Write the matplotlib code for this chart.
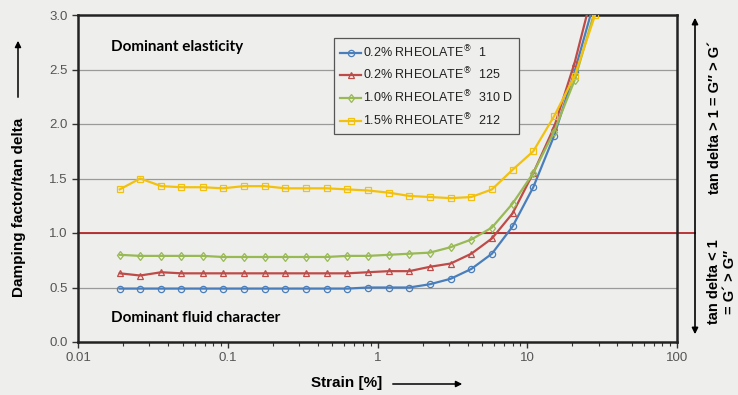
import matplotlib
matplotlib.use("Agg")
import matplotlib.pyplot as plt
from matplotlib.ticker import FixedLocator, FixedFormatter, LogLocator, NullFormatter

# strain [%] points of the amplitude sweep
strain = [0.019, 0.026, 0.036, 0.049, 0.068, 0.093, 0.128, 0.176, 0.242, 0.333,
          0.457, 0.628, 0.863, 1.19, 1.63, 2.24, 3.08, 4.23, 5.81, 7.98,
          10.97, 15.1, 20.7, 28.4]

rheolate_1 = [0.49, 0.49, 0.49, 0.49, 0.49, 0.49, 0.49, 0.49, 0.49, 0.49,
              0.49, 0.49, 0.50, 0.50, 0.50, 0.53, 0.58, 0.67, 0.81, 1.06,
              1.42, 1.89, 2.48, 3.15]
rheolate_125 = [0.63, 0.61, 0.64, 0.63, 0.63, 0.63, 0.63, 0.63, 0.63, 0.63,
                0.63, 0.63, 0.64, 0.65, 0.65, 0.69, 0.72, 0.81, 0.95, 1.18,
                1.55, 1.97, 2.56, 3.3]
rheolate_310d = [0.80, 0.79, 0.79, 0.79, 0.79, 0.78, 0.78, 0.78, 0.78, 0.78,
                 0.78, 0.79, 0.79, 0.80, 0.81, 0.82, 0.87, 0.94, 1.05, 1.27,
                 1.55, 1.93, 2.40, 3.05]
rheolate_212 = [1.40, 1.50, 1.43, 1.42, 1.42, 1.41, 1.43, 1.43, 1.41, 1.41,
                1.41, 1.40, 1.39, 1.37, 1.34, 1.33, 1.32, 1.33, 1.40, 1.58,
                1.75, 2.07, 2.44, 3.0]

labels = ["0.2% RHEOLATE$^{®}$  1", "0.2% RHEOLATE$^{®}$  125",
          "1.0% RHEOLATE$^{®}$  310 D", "1.5% RHEOLATE$^{®}$  212"]
colors = ["#4a7ebb", "#be4b48", "#98b954", "#f2c10f"]
markers = ["o", "^", "d", "s"]

y_ticks = [0.0, 0.5, 1.0, 1.5, 2.0, 2.5, 3.0]
x_ticks = [0.01, 0.1, 1, 10, 100]
x_ticklabels = ["0.01", "0.1", "1", "10", "100"]

bg = "#eeefed"
plt.rcParams["font.family"] = ["Liberation Sans", "DejaVu Sans"]

fig = plt.figure(figsize=(7.38, 3.95), dpi=100, facecolor=bg)
ax = fig.add_axes([78 / 738, 1 - 342 / 395, (677 - 78) / 738, (342 - 15) / 395])
ax.set_facecolor(bg)

series = [rheolate_1, rheolate_125, rheolate_310d, rheolate_212]
for vals, lab, c, m in zip(series, labels, colors, markers):
    ax.plot(strain, vals, color=c, lw=1.6, marker=m, ms=4.5, mfc="none",
            mec=c, mew=0.9, label=lab, zorder=3)

for yv in y_ticks[1:-1]:
    ax.axhline(yv, color="#9a9a9a", lw=0.9, zorder=1)
# tan delta = 1 boundary, runs out to the right arrow
ax.plot([0.01, 100 * 10 ** (18 / 150)], [1.0, 1.0], color="#b5262a", lw=1.3,
        clip_on=False, zorder=2)

ax.set_xscale("log")
ax.set_xlim(0.01, 100)
ax.set_ylim(0, 3)
ax.xaxis.set_major_locator(FixedLocator(x_ticks))
ax.xaxis.set_major_formatter(FixedFormatter(x_ticklabels))
ax.xaxis.set_minor_locator(LogLocator(base=10, subs=range(2, 10)))
ax.xaxis.set_minor_formatter(NullFormatter())
ax.set_yticks(y_ticks)
ax.set_yticklabels([f"{v:.1f}" for v in y_ticks])
ax.tick_params(axis="both", which="major", labelsize=9.5, labelcolor="#555555",
               color="#333333", length=4, width=1)
ax.tick_params(axis="x", which="minor", color="#333333", length=3, width=0.8)
for s in ax.spines.values():
    s.set_linewidth(1.8)
    s.set_color("#222222")

leg = ax.legend(loc="upper left", bbox_to_anchor=((328 - 78) / 599, (342 - 32) / 327),
                frameon=True, fontsize=9, handlelength=1.7, handletextpad=0.15,
                borderpad=0.45, labelspacing=0.5, fancybox=False,
                facecolor=bg, framealpha=1)
leg.get_frame().set_edgecolor("#555555")
leg.get_frame().set_linewidth(0.9)
for t in leg.get_texts():
    t.set_color("#222222")

ax.text(0.0167, 2.71, "Dominant elasticity", fontsize=11, fontweight="bold",
        family=["Lato", "DejaVu Sans"], va="center", ha="left")
ax.text(0.0167, 0.22, "Dominant fluid character", fontsize=11, fontweight="bold",
        family=["Lato", "DejaVu Sans"], va="center", ha="left")

# y label with arrow
fig.text(19 / 738, 1 - 207 / 395, "Damping factor/tan delta", rotation=90,
         fontsize=11, fontweight="bold", ha="center", va="center")
fig.add_artist(matplotlib.patches.FancyArrowPatch(
    (18 / 738, 1 - 100 / 395), (18 / 738, 1 - 38 / 395), transform=fig.transFigure,
    arrowstyle="-|>", mutation_scale=9, lw=1.1, color="black"))

# x label with arrow
fig.text(347 / 738, 1 - 383 / 395, "Strain [%]", fontsize=11, fontweight="bold",
         ha="center", va="center")
fig.add_artist(matplotlib.patches.FancyArrowPatch(
    (390 / 738, 1 - 384 / 395), (465 / 738, 1 - 384 / 395), transform=fig.transFigure,
    arrowstyle="-|>", mutation_scale=9, lw=1.1, color="black"))

# right side double arrow and annotations
fig.add_artist(matplotlib.patches.FancyArrowPatch(
    (695 / 738, 1 - 337 / 395), (695 / 738, 1 - 15 / 395), transform=fig.transFigure,
    arrowstyle="<|-|>", mutation_scale=9, lw=1.2, color="black"))
fig.text(715 / 738, 1 - 118 / 395, "tan delta > 1 = G\u2033 > G\u00b4", rotation=90,
         fontsize=10.5, fontweight="bold", ha="center", va="center")
fig.text(722 / 738, 1 - 282 / 395, "tan delta < 1\n= G\u00b4 > G\u2033", rotation=90,
         fontsize=10.5, fontweight="bold", ha="center", va="center",
         multialignment="center", linespacing=1.2)

fig.savefig("out.png", dpi=100, facecolor=bg)
